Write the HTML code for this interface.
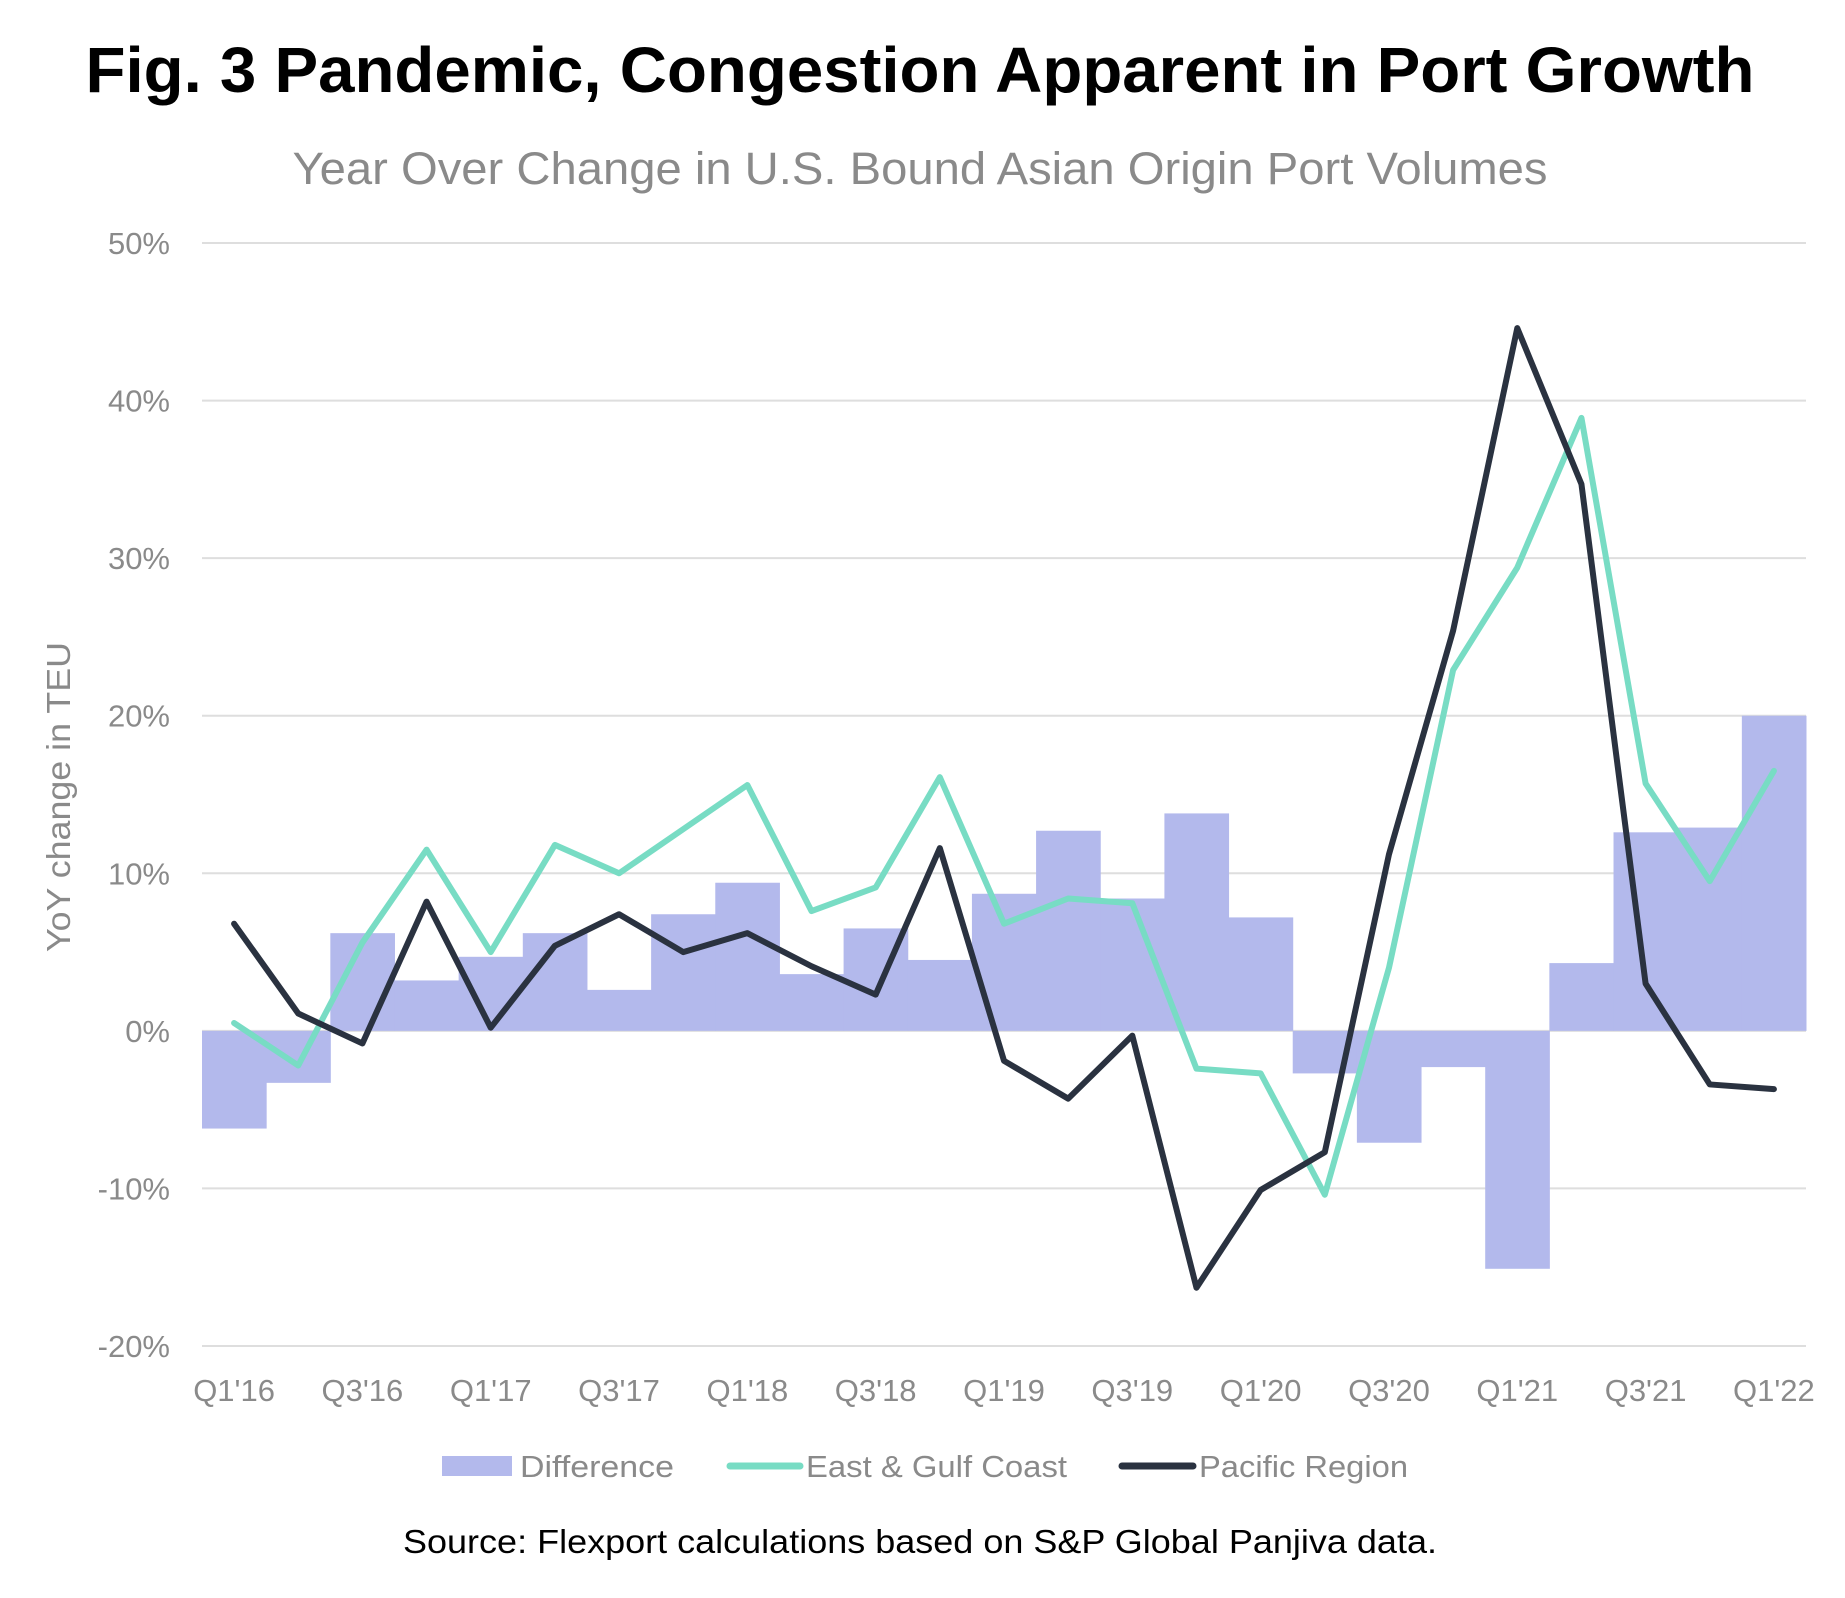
<!DOCTYPE html>
<html><head><meta charset="utf-8"><style>
body{margin:0;background:#fff;}
svg{display:block;font-family:"Liberation Sans",sans-serif;}
</style></head><body>
<svg id="chart" width="1845" height="1598" viewBox="0 0 1845 1598">
<text x="920" y="92" text-anchor="middle" font-size="64" font-weight="bold" fill="#000" textLength="1669" lengthAdjust="spacingAndGlyphs">Fig. 3 Pandemic, Congestion Apparent in Port Growth</text>
<text x="920" y="184" text-anchor="middle" font-size="45" fill="#8a8a8a" textLength="1255" lengthAdjust="spacingAndGlyphs">Year Over Change in U.S. Bound Asian Origin Port Volumes</text>
<text transform="translate(70,797) rotate(-90)" text-anchor="middle" font-size="33" fill="#8a8a8a" textLength="310" lengthAdjust="spacingAndGlyphs">YoY change in TEU</text>
<g id="grid"></g><g id="bars"></g><g id="lines"></g><g id="yticks"></g><g id="xticks"></g>
<g>
<rect x="442" y="1456" width="70" height="20" fill="#b3b9ec"/>
<text x="520" y="1477" font-size="31" fill="#8a8a8a" textLength="154" lengthAdjust="spacingAndGlyphs">Difference</text>
<line x1="730" y1="1466" x2="800" y2="1466" stroke="#78dcc4" stroke-width="7" stroke-linecap="round"/>
<text x="806" y="1477" font-size="31" fill="#8a8a8a" textLength="261" lengthAdjust="spacingAndGlyphs">East &amp; Gulf Coast</text>
<line x1="1122" y1="1466" x2="1193" y2="1466" stroke="#2a3240" stroke-width="7" stroke-linecap="round"/>
<text x="1199" y="1477" font-size="31" fill="#8a8a8a" textLength="209" lengthAdjust="spacingAndGlyphs">Pacific Region</text>
</g>
<text x="920" y="1553" text-anchor="middle" font-size="33" fill="#000" textLength="1034" lengthAdjust="spacingAndGlyphs">Source: Flexport calculations based on S&amp;P Global Panjiva data.</text>
</svg>
<script>
const quarters=["Q1'16","Q2'16","Q3'16","Q4'16","Q1'17","Q2'17","Q3'17","Q4'17","Q1'18","Q2'18","Q3'18","Q4'18","Q1'19","Q2'19","Q3'19","Q4'19","Q1'20","Q2'20","Q3'20","Q4'20","Q1'21","Q2'21","Q3'21","Q4'21","Q1'22"];
const difference=[-6.2,-3.3,6.2,3.2,4.7,6.2,2.6,7.4,9.4,3.6,6.5,4.5,8.7,12.7,8.4,13.8,7.2,-2.7,-7.1,-2.3,-15.1,4.3,12.6,12.9,20.0];
const eastGulf=[0.5,-2.2,5.6,11.5,5.0,11.8,10.0,12.8,15.6,7.6,9.1,16.1,6.8,8.4,8.1,-2.4,-2.7,-10.4,4.0,22.9,29.4,38.9,15.7,9.5,16.5];
const pacific=[6.8,1.1,-0.8,8.2,0.2,5.4,7.4,5.0,6.2,4.1,2.3,11.6,-1.9,-4.3,-0.3,-16.3,-10.1,-7.7,11.2,25.4,44.6,34.7,3.0,-3.4,-3.7];
const yTicks=[50,40,30,20,10,0,-10,-20];
const NS="http://www.w3.org/2000/svg";
const L=202,R=1806,T=243,B=1346,ymax=50,ymin=-20;
const bw=(R-L)/quarters.length;
function y(v){return T+(ymax-v)/(ymax-ymin)*(B-T);}
function xc(i){return L+bw*(i+0.5);}
function mk(tag,attrs,parent){const e=document.createElementNS(NS,tag);for(const k in attrs)e.setAttribute(k,attrs[k]);document.getElementById(parent).appendChild(e);return e;}
yTicks.forEach(t=>{
 const g=mk('line',{x1:L,x2:R,y1:y(t),y2:y(t),stroke:'#dedede','stroke-width':2},'grid');
 
 
 const tx=mk('text',{x:170,y:y(t)+11,'text-anchor':'end','font-size':31,fill:'#8a8a8a'},'yticks');
 tx.textContent=t+'%';
 
 
});
difference.forEach((v,i)=>{
 const r=mk('rect',{x:L+bw*i,width:bw+0.5,y:Math.min(y(v),y(0)),height:Math.abs(y(v)-y(0)),fill:'#b3b9ec'},'bars');
 
 
});
quarters.forEach((q,i)=>{
 if(i%2)return;
 const t=mk('text',{x:xc(i),y:1401,'text-anchor':'middle','font-size':31,fill:'#8a8a8a'},'xticks');
 t.textContent=q;
 
 
});
function line(data,color,name){
 const p=mk('polyline',{points:data.map((v,i)=>xc(i)+','+y(v)).join(' '),fill:'none',stroke:color,'stroke-width':6,'stroke-linejoin':'round','stroke-linecap':'round'},'lines');
 
 
}
line(eastGulf,'#78dcc4','east-gulf-line');
line(pacific,'#2a3240','pacific-line');
</script>
</body></html>
